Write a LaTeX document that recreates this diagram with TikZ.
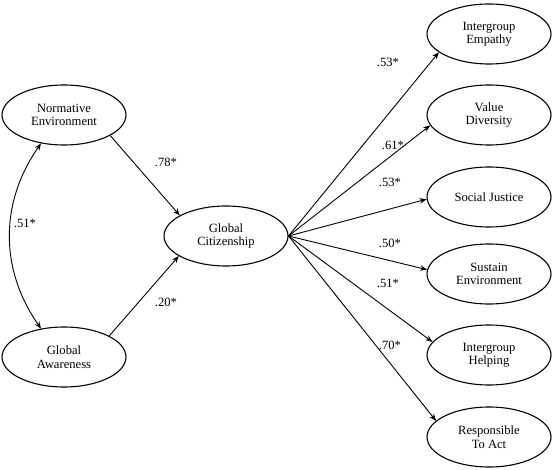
\documentclass[tikz,border=0pt]{standalone}
\usepackage{fontspec}
\setmainfont{Liberation Serif}
\usetikzlibrary{shapes.geometric,arrows.meta}

\begin{document}
\begin{tikzpicture}[x=1pt,y=-1pt,>={Stealth[length=7pt,width=5.5pt]},
	var/.style={draw,ellipse,line width=1.1pt,minimum width=124pt,minimum height=60pt,inner sep=0pt,align=center,font=\fontsize{12.6}{13.5}\selectfont},
	arr/.style={line width=0.9pt,->},
	coef/.style={inner sep=0pt,font=\fontsize{12.6}{13.5}\selectfont}]
		\useasboundingbox (0,0) rectangle (554,470);
		\node[var] (norm) at (64,115) {Normative\\Environment};
		\node[var] (aware) at (64,357) {Global\\Awareness};
		\node[var] (gc) at (226,236) {Global\\Citizenship};
		\node[var] (emp) at (489,34) {Intergroup\\Empathy};
		\node[var] (div) at (489,115) {Value\\Diversity};
		\node[var] (just) at (489,197) {Social Justice};
		\node[var] (sus) at (489,274) {Sustain\\Environment};
		\node[var] (help) at (489,355) {Intergroup\\Helping};
		\node[var] (resp) at (489,437) {Responsible\\To Act};
		\draw[line width=0.9pt,<->] (norm.231) to[bend right=35] (aware.129);
		\draw[arr] (norm.336) -- (gc.156);
		\draw[arr] (aware.25) -- (gc.203);
		\draw[arr] (gc.east) -- (emp.200);
		\draw[arr] (gc.east) -- (div.190);
		\draw[arr] (gc.east) -- (just.182);
		\draw[arr] (gc.east) -- (sus.176);
		\draw[arr] (gc.east) -- (help.167);
		\draw[arr] (gc.east) -- (resp.163);
		\node[coef] (c51) at (25,223) {.51*};
		\node[coef] (c78) at (166,162) {.78*};
		\node[coef] (c20) at (166,302) {.20*};
		\node[coef] (c53a) at (388,62) {.53*};
		\node[coef] (c61) at (393,145) {.61*};
		\node[coef] (c53b) at (390,182) {.53*};
		\node[coef] (c50) at (390,243) {.50*};
		\node[coef] (c51b) at (388,283) {.51*};
		\node[coef] (c70) at (390,345) {.70*};
\end{tikzpicture}
\end{document}
